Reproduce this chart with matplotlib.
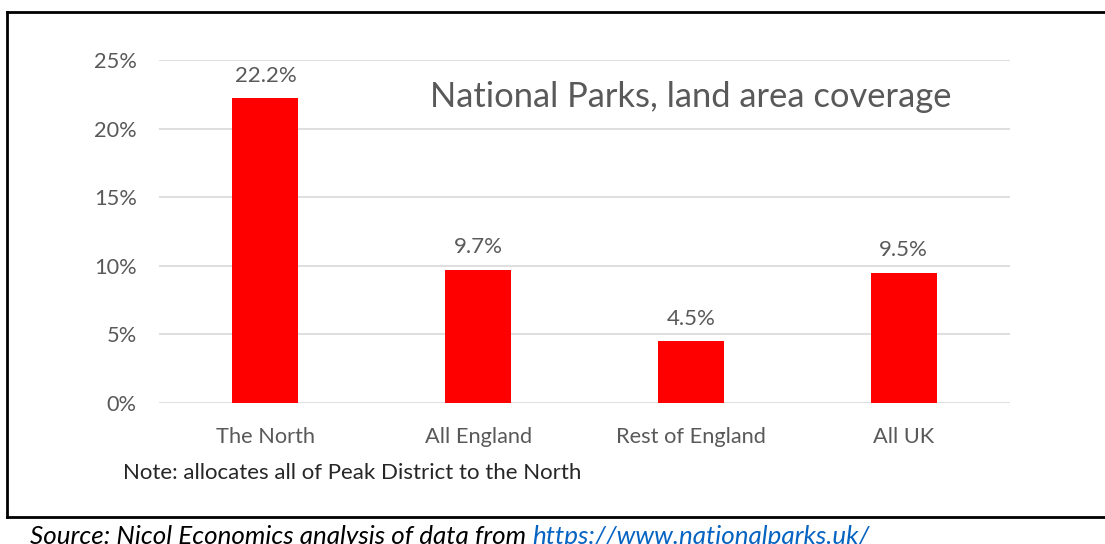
import matplotlib
matplotlib.use('Agg')
import matplotlib.pyplot as plt
from matplotlib.lines import Line2D

# data
categories = ['The North', 'All England', 'Rest of England', 'All UK']
coverage = [0.222, 0.097, 0.045, 0.095]
yticks = [0, 0.05, 0.10, 0.15, 0.20, 0.25]

W, H = 1105, 544
plt.rcParams['font.family'] = ['Lato', 'DejaVu Sans']

fig = plt.figure(figsize=(W / 100, H / 100), dpi=100)

def px(x, y):
    return x / W, 1 - y / H

# plot area in pixels
x0, x1, ytop, ybot = 159, 1010, 60, 403
ax = fig.add_axes([x0 / W, 1 - ybot / H, (x1 - x0) / W, (ybot - ytop) / H])

xs = range(len(categories))
bars = ax.bar(xs, coverage, width=0.31, color='#ff0000', zorder=3)
ax.set_xlim(-0.5, len(categories) - 0.5)
ax.set_ylim(0, 0.25)
ax.set_yticks(yticks)
ax.set_yticklabels(['%d%%' % round(v * 100) for v in yticks])
ax.set_xticks(list(xs))
ax.set_xticklabels(categories)
ax.tick_params(length=0, labelsize=15.7, labelcolor='#595959')
ax.tick_params(axis='y', pad=16)
ax.tick_params(axis='x', pad=17)
for s in ax.spines.values():
    s.set_visible(False)
ax.grid(axis='y', color='#d9d9d9', linewidth=1.2, zorder=0)

for b, v in zip(bars, coverage):
    ax.annotate('%.1f%%' % (v * 100), (b.get_x() + b.get_width() / 2, v),
                xytext=(0, 9), textcoords='offset points', ha='center', va='bottom',
                fontsize=16, color='#595959')

fig.text(*px(691, 97), 'National Parks, land area coverage', ha='center', va='center',
         fontsize=24.8, color='#595959')

fig.text(*px(123, 473), 'Note: allocates all of Peak District to the North', ha='left',
         va='center', fontsize=16, color='#262626')

# frame
lw = 2.0
fig.add_artist(Line2D([7 / W, 7 / W], [1 - 12 / H, 1 - 517 / H], color='black', lw=lw))
fig.add_artist(Line2D([7 / W, 1], [1 - 12 / H, 1 - 12 / H], color='black', lw=lw))
fig.add_artist(Line2D([7 / W, 1], [1 - 517 / H, 1 - 517 / H], color='black', lw=lw))

# source line
t1 = fig.text(*px(30, 536), 'Source: Nicol Economics analysis of data from ', ha='left',
              va='center', fontsize=18.7, style='italic', color='black')
fig.canvas.draw()
bb = t1.get_window_extent()
fig.text(bb.x1 / W, 1 - 536 / H, 'https://www.nationalparks.uk/', ha='left', va='center',
         fontsize=18.7, style='italic', color='#0563c1')

fig.savefig('out.png', dpi=100)
